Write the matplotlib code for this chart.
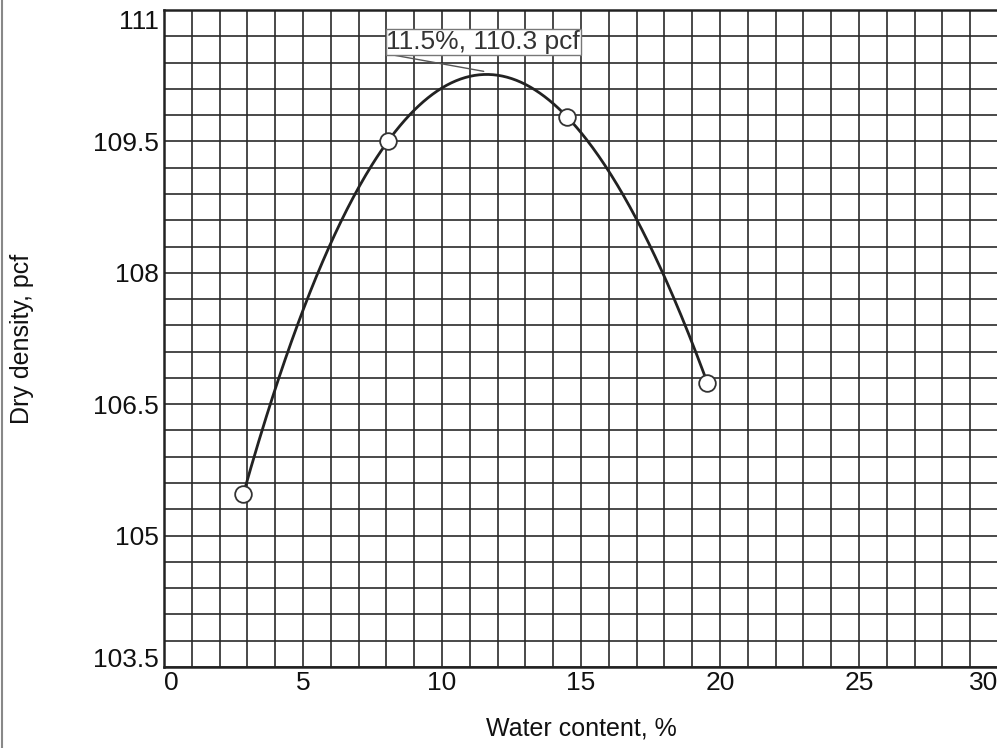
# -*- coding:utf-8 -*-

import numpy
import matplotlib
matplotlib.use("Agg")
import matplotlib.pyplot as plt
from matplotlib.ticker import MultipleLocator
from matplotlib.lines import Line2D

# Data
water_content = [2.85, 8.05, 14.5, 19.55]
dry_density = [105.47, 109.5, 109.78, 106.74]
peak_label = "11.5%, 110.3 pcf"
peak_point = (11.5, 110.3)
x_ticks = [0, 5, 10, 15, 20, 25, 30]
y_ticks = [103.5, 105, 106.5, 108, 109.5, 111]
y_tick_labels = ["103.5", "105", "106.5", "108", "109.5", "111"]

plt.rcParams['font.family'] = ['Liberation Sans', 'DejaVu Sans']

fig = plt.figure(figsize=(9.97, 7.48), dpi=100, facecolor='w')
ax = fig.add_axes([0.1645, 0.1083, 0.8365, 0.8783])

# Smooth curve through the points (cubic fit)
coef = numpy.polyfit(water_content, dry_density, 3)
xs = numpy.linspace(water_content[0], water_content[-1], 300)
ax.plot(xs, numpy.polyval(coef, xs), color='#222222', lw=2.0, zorder=3)
ax.plot(water_content, dry_density, 'o', ms=12, mfc='white', mec='#333333',
        mew=1.3, zorder=4)

# Decorations
ax.set_xlim(0, 30)
ax.set_ylim(103.5, 111)
ax.set_xticks(x_ticks)
ax.set_yticks(y_ticks)
ax.set_yticklabels(y_tick_labels)
ax.xaxis.set_minor_locator(MultipleLocator(1))
ax.yaxis.set_minor_locator(MultipleLocator(0.3))
ax.grid(which='both', color='#2a2a2a', lw=1.2)
ax.set_axisbelow(True)
ax.tick_params(which='both', length=0)
ax.tick_params(axis='x', labelsize=19, pad=3, colors='#111111')
ax.tick_params(axis='y', labelsize=19, pad=4, colors='#111111')
for s in ax.spines.values():
    s.set_linewidth(1.8)
    s.set_color('#222222')

xl = ax.get_xticklabels()
xl[0].set_ha('left')
xl[-1].set_ha('right')
yl = ax.get_yticklabels()
yl[0].set_va('baseline')
yl[-1].set_va('top')

ax.set_xlabel('Water content, %', fontsize=18, color='#111111')
ax.xaxis.set_label_coords(0.5, -0.094)
ax.xaxis.label.set_va('center')
ax.set_ylabel('Dry density, pcf', fontsize=18, color='#111111')
ax.yaxis.set_label_coords(-0.170, 0.5)
ax.yaxis.label.set_va('center')

ax.annotate(peak_label, xy=peak_point, xytext=(8.0, 110.5),
            fontsize=19, color='#333333', ha='left', va='bottom',
            bbox=dict(boxstyle='square,pad=0.03', fc='white', ec='#777777', lw=1),
            arrowprops=dict(arrowstyle='-', color='#555555', lw=1,
                            relpos=(0, 0), shrinkA=0, shrinkB=0),
            zorder=5)

# scanned page border on the left
fig.add_artist(Line2D([0.002, 0.002], [0, 1], color='#888888', lw=1.5))

plt.savefig("out.png", dpi=100)
